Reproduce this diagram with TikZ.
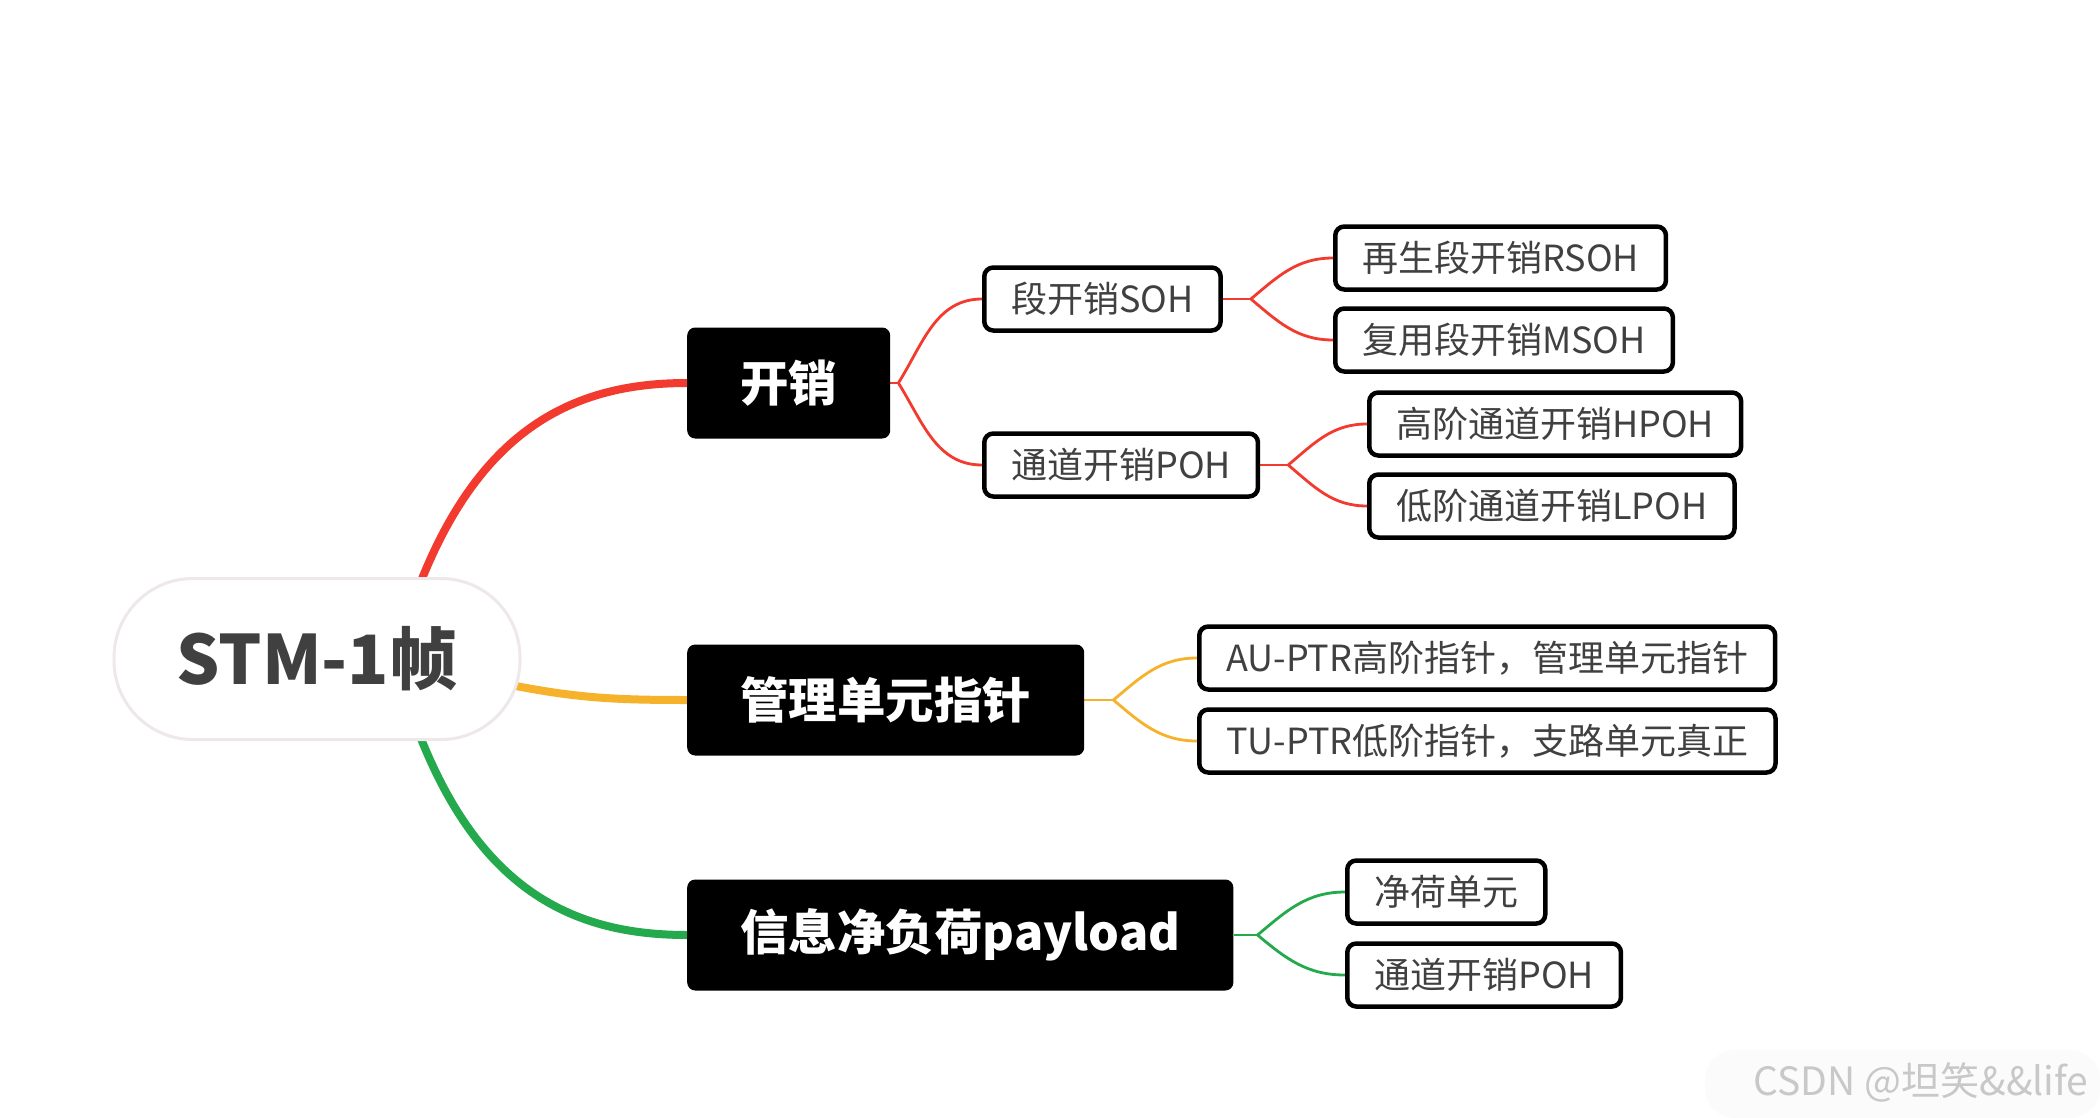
\documentclass[tikz,border=0pt]{standalone}
\usepackage{fontspec}
\setmainfont{Noto Sans CJK SC}
\usetikzlibrary{backgrounds}
\definecolor{txt}{RGB}{64,64,64}
\definecolor{cred}{RGB}{243,58,46}
\definecolor{cyel}{RGB}{245,178,42}
\definecolor{cgrn}{RGB}{36,170,76}
\definecolor{wmgray}{RGB}{200,200,200}
\definecolor{rootedge}{RGB}{238,232,234}
\begin{document}
\begin{tikzpicture}[x=1pt,y=1pt,
  rootnode/.style={draw=rootedge, line width=3pt, fill=white, rounded corners=79pt,
    minimum width=406pt, minimum height=161pt, text=txt,
    font=\fontsize{68}{80}\selectfont\bfseries, inner sep=0pt},
  mainnode/.style={fill=black, rounded corners=8pt, text=white,
    font=\fontsize{48.5}{56}\selectfont\bfseries, minimum height=111pt,
    inner xsep=53pt, inner ysep=0pt},
  subnode/.style={draw=black, line width=4.5pt, fill=white, rounded corners=9pt,
    text=txt, font=\fontsize{36}{42}\selectfont, minimum height=63pt,
    inner xsep=27pt, inner ysep=0pt},
  bigbranch/.style={line width=8pt},
  smallbranch/.style={line width=2.8pt},
]
\useasboundingbox (0,0) rectangle (2100,-1118);

% nodes
\node[rootnode] (root) at (317,-659) {STM-1帧};
\node[mainnode, anchor=west] (kx) at (687,-383) {开销};
\node[mainnode, anchor=west] (mg) at (687,-700) {管理单元指针};
\node[mainnode, anchor=west] (pl) at (687,-935) {信息净负荷payload};

\node[subnode, anchor=west] (soh)  at (982,-299)  {段开销SOH};
\node[subnode, anchor=west] (poh)  at (982,-465)  {通道开销POH};
\node[subnode, anchor=west] (rsoh) at (1333,-258) {再生段开销RSOH};
\node[subnode, anchor=west] (msoh) at (1333,-340) {复用段开销MSOH};
\node[subnode, anchor=west] (hpoh) at (1367,-424) {高阶通道开销HPOH};
\node[subnode, anchor=west] (lpoh) at (1367,-506) {低阶通道开销LPOH};
\node[subnode, anchor=west] (au)   at (1197,-658) {AU-PTR高阶指针，管理单元指针};
\node[subnode, anchor=west] (tu)   at (1197,-741) {TU-PTR低阶指针，支路单元真正};
\node[subnode, anchor=west] (jh)   at (1345,-892) {净荷单元};
\node[subnode, anchor=west] (poh2) at (1345,-975) {通道开销POH};

\node[text=wmgray, font=\fontsize{39}{44}\selectfont] (wm) at (1921,-1082) {CSDN @坦笑\&\&life};

% coordinates
\coordinate (rs) at (395,-660);
\coordinate (ys) at (450,-672);
\coordinate (f1) at ([xshift=8pt]kx.east);
\coordinate (f2) at ([xshift=28pt]soh.east);
\coordinate (f3) at ([xshift=28pt]poh.east);
\coordinate (f4) at ([xshift=29pt]mg.east);
\coordinate (f5) at ([xshift=24pt]pl.east);

\begin{scope}[on background layer]
\fill[white] (0,0) rectangle (2100,-1118);
\fill[white!98.5!black, rounded corners=30pt] (1705,-1050) rectangle (2100,-1118);
% thick branches
\draw[cred, bigbranch] (rs) .. controls +(60,220) and +(-127,0) .. (kx.west);
\draw[cgrn, bigbranch] (rs) .. controls +(60,-220) and +(-127,0) .. (pl.west);
\draw[cyel, bigbranch] (ys) .. controls +(110,-25) and +(-90,0) .. (mg.west);
% thin branches: red
\draw[cred, smallbranch] (kx.east) -- (f1);
\draw[cred, smallbranch] (f1) to[out=58, in=180] (soh.west);
\draw[cred, smallbranch] (f1) to[out=-58, in=180] (poh.west);
\draw[cred, smallbranch] (soh.east) -- (f2);
\draw[cred, smallbranch] (f2) to[out=40, in=180] (rsoh.west);
\draw[cred, smallbranch] (f2) to[out=-40, in=180] (msoh.west);
\draw[cred, smallbranch] (poh.east) -- (f3);
\draw[cred, smallbranch] (f3) to[out=40, in=180] (hpoh.west);
\draw[cred, smallbranch] (f3) to[out=-40, in=180] (lpoh.west);
% yellow
\draw[cyel, smallbranch] (mg.east) -- (f4);
\draw[cyel, smallbranch] (f4) to[out=40, in=180] (au.west);
\draw[cyel, smallbranch] (f4) to[out=-40, in=180] (tu.west);
% green
\draw[cgrn, smallbranch] (pl.east) -- (f5);
\draw[cgrn, smallbranch] (f5) to[out=40, in=180] (jh.west);
\draw[cgrn, smallbranch] (f5) to[out=-40, in=180] (poh2.west);
\end{scope}
\end{tikzpicture}
\end{document}
